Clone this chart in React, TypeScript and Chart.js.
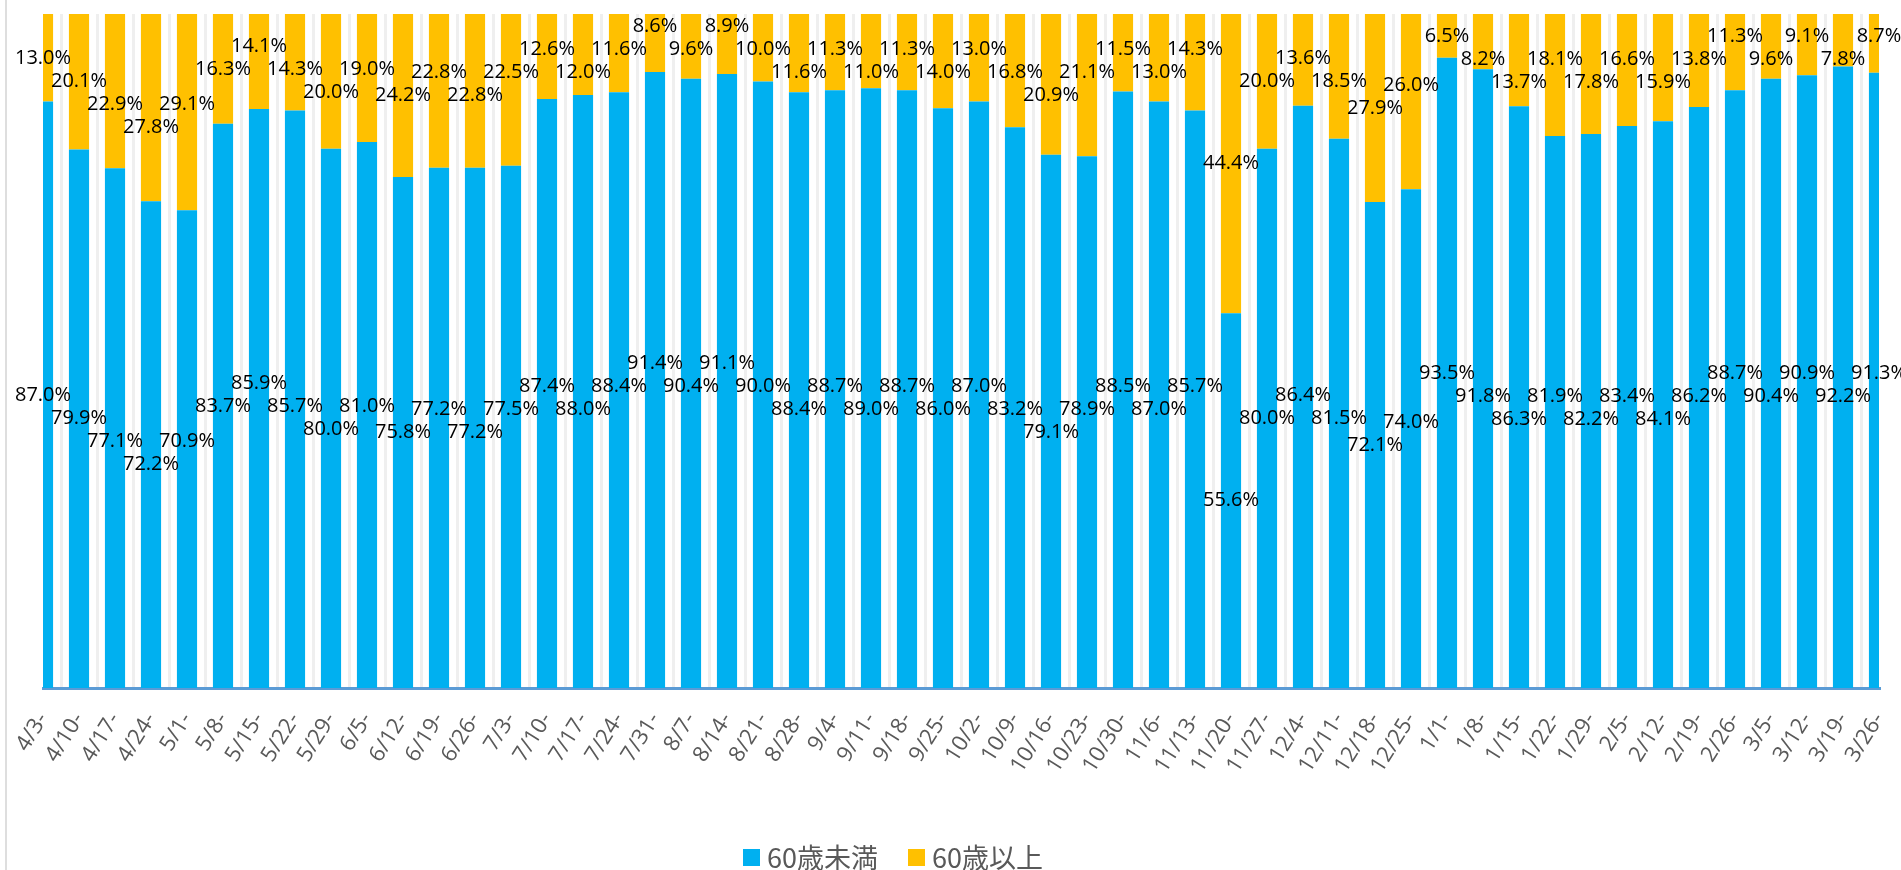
import React, { useEffect, useRef } from "react";
import { Chart, registerables } from "chart.js";

Chart.register(...registerables);

const categories = [
  "4/3-", "4/10-", "4/17-", "4/24-", "5/1-", "5/8-", "5/15-", "5/22-", "5/29-",
  "6/5-", "6/12-", "6/19-", "6/26-", "7/3-", "7/10-", "7/17-", "7/24-", "7/31-",
  "8/7-", "8/14-", "8/21-", "8/28-", "9/4-", "9/11-", "9/18-", "9/25-", "10/2-",
  "10/9-", "10/16-", "10/23-", "10/30-", "11/6-", "11/13-", "11/20-", "11/27-",
  "12/4-", "12/11-", "12/18-", "12/25-", "1/1-", "1/8-", "1/15-", "1/22-", "1/29-",
  "2/5-", "2/12-", "2/19-", "2/26-", "3/5-", "3/12-", "3/19-", "3/26-",
];

const under60 = [
  87.0, 79.9, 77.1, 72.2, 70.9, 83.7, 85.9, 85.7, 80.0, 81.0, 75.8, 77.2, 77.2,
  77.5, 87.4, 88.0, 88.4, 91.4, 90.4, 91.1, 90.0, 88.4, 88.7, 89.0, 88.7, 86.0,
  87.0, 83.2, 79.1, 78.9, 88.5, 87.0, 85.7, 55.6, 80.0, 86.4, 81.5, 72.1, 74.0,
  93.5, 91.8, 86.3, 81.9, 82.2, 83.4, 84.1, 86.2, 88.7, 90.4, 90.9, 92.2, 91.3,
];

const over60 = [
  13.0, 20.1, 22.9, 27.8, 29.1, 16.3, 14.1, 14.3, 20.0, 19.0, 24.2, 22.8, 22.8,
  22.5, 12.6, 12.0, 11.6, 8.6, 9.6, 8.9, 10.0, 11.6, 11.3, 11.0, 11.3, 14.0,
  13.0, 16.8, 20.9, 21.1, 11.5, 13.0, 14.3, 44.4, 20.0, 13.6, 18.5, 27.9, 26.0,
  6.5, 8.2, 13.7, 18.1, 17.8, 16.6, 15.9, 13.8, 11.3, 9.6, 9.1, 7.8, 8.7,
];

const seriesNames = ["60歳未満", "60歳以上"];
const seriesColors = ["#00B0F0", "#FFC000"];

// Draws each segment's value at its centre, nudging a label up or down
// when it would collide with its neighbour's label.
const segmentLabels = {
  id: "segmentLabels",
  afterDatasetsDraw(chart: any) {
    const ctx = chart.ctx;
    const step = 23;
    ctx.save();
    ctx.font = "20px 'Open Sans'";
    ctx.fillStyle = "#000000";
    ctx.textAlign = "center";
    ctx.textBaseline = "middle";
    chart.data.datasets.forEach((ds: any, i: number) => {
      const meta = chart.getDatasetMeta(i);
      let prevY: number | null = null;
      meta.data.forEach((el: any, j: number) => {
        const p = el.getProps(["x", "y", "base"], true);
        const want = (p.y + p.base) / 2;
        let y = want;
        if (prevY !== null && Math.abs(y - prevY) < step) {
          const up = prevY - step;
          const down = prevY + step;
          y = Math.abs(up - want) < Math.abs(down - want) ? up : down;
        }
        ctx.fillText(Number(ds.data[j]).toFixed(1) + "%", p.x, y);
        prevY = y;
      });
    });
    ctx.restore();
  },
};

export default function App() {
  const ref = useRef<HTMLCanvasElement | null>(null);

  useEffect(() => {
    if (!ref.current) return;
    const chart = new Chart(ref.current, {
      type: "bar",
      data: {
        labels: categories,
        datasets: [
          { label: seriesNames[0], data: under60, backgroundColor: seriesColors[0] },
          { label: seriesNames[1], data: over60, backgroundColor: seriesColors[1] },
        ],
      },
      options: {
        animation: false,
        responsive: false,
        devicePixelRatio: 1,
        layout: { padding: { left: 43, right: 22, top: 14, bottom: 0 } },
        datasets: { bar: { barPercentage: 0.56, categoryPercentage: 1.0 } },
        scales: {
          x: {
            stacked: true,
            offset: false,
            grid: { offset: true, color: "#efefef", lineWidth: 3, drawTicks: false },
            border: { color: "#5B9BD5", width: 3 },
            ticks: {
              autoSkip: false,
              minRotation: 58,
              maxRotation: 58,
              padding: 20,
              color: "#595959",
              font: { family: "'Open Sans'", size: 22 },
            },
            afterFit: (scale: any) => {
              scale.height = 182;
              scale.paddingLeft = 0;
              scale.paddingRight = 0;
            },
          },
          y: { stacked: true, min: 0, max: 100, display: false },
        },
        plugins: {
          legend: { display: false },
          tooltip: { enabled: false },
        },
      },
      plugins: [segmentLabels],
    });
    return () => chart.destroy();
  }, []);

  return (
    <div style={{ position: "fixed", left: 0, top: 0, width: 1901, height: 870, background: "#fff", overflow: "hidden" }}>
      <canvas ref={ref} width={1901} height={870} style={{ position: "absolute", left: 0, top: 0, display: "block" }} />
      <div style={{ position: "absolute", left: 5, top: 0, width: 2, height: 870, background: "#dedede" }} />
      <div
        style={{
          position: "absolute",
          left: 743,
          top: 842,
          height: 30,
          display: "flex",
          alignItems: "center",
          fontFamily: "'Noto Sans CJK JP', 'Noto Sans', sans-serif",
          fontSize: 27,
          color: "#595959",
          lineHeight: "30px",
        }}
      >
        {seriesNames.map((n, i) => (
          <div key={n} style={{ display: "flex", alignItems: "center", marginRight: i === 0 ? 30 : 0 }}>
            <span style={{ width: 17, height: 17, background: seriesColors[i], marginRight: 7, display: "inline-block" }} />
            <span>{n}</span>
          </div>
        ))}
      </div>
    </div>
  );
}
